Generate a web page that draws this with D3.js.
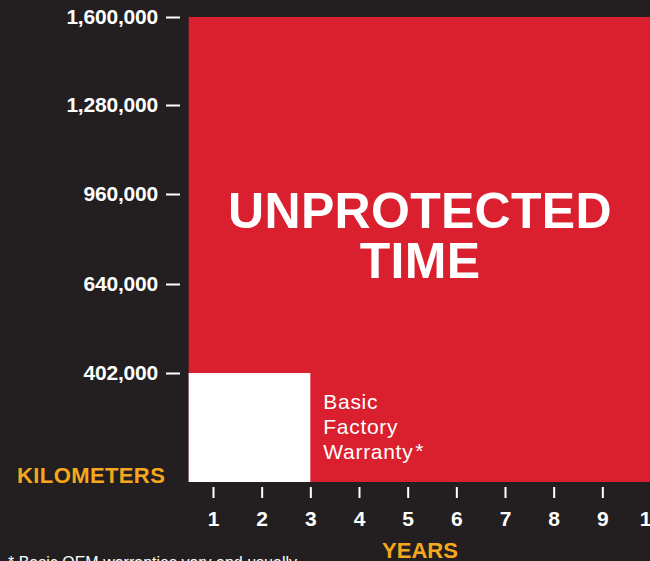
<!DOCTYPE html>
<html>
<head>
<meta charset="utf-8">
<script src="https://cdn.jsdelivr.net/npm/d3@7"></script>
<style>
  html, body { margin: 0; padding: 0; background: #231f20; }
  svg { display: block; font-family: "Liberation Sans", Arial, Helvetica, sans-serif; }
</style>
</head>
<body>
<svg id="chart" width="650" height="561"></svg>
<script>
// chart data
var years = [1, 2, 3, 4, 5, 6, 7, 8, 9, 10]
var kmTicks = [402000, 640000, 960000, 1280000, 1600000]
var segments = ['Unprotected Time', 'Basic Factory Warranty']
var segmentYears = [10, 3]
var segmentKm = [1600000, 402000]
var segmentColors = ['#da1f2e', '#ffffff']

var svg = d3.select('#chart')
var yellow = '#f6a81c'

// x: years, y: km (axis is stepped, not linear)
var x = d3.scaleLinear().domain([1, 10]).range([213, 651])
var y = d3.scaleLinear()
  .domain([0, 402000, 640000, 960000, 1280000, 1600000])
  .range([482, 373, 284, 194, 105, 17])

svg.selectAll('rect.seg')
  .data(segments)
  .enter().append('rect')
  .attr('class', 'seg')
  .attr('x', x(0.5))
  .attr('y', (d, i) => y(segmentKm[i]))
  .attr('width', (d, i) => x(segmentYears[i] + (i === 0 ? 0.5 : 0)) - x(0.5))
  .attr('height', (d, i) => y(0) - y(segmentKm[i]))
  .attr('fill', (d, i) => segmentColors[i])

// y axis
let yAxis = svg.append('g')
  .attr('transform', 'translate(180,0)')
  .call(d3.axisLeft(y).tickValues(kmTicks).tickSize(14).tickPadding(8)
    .tickFormat(d3.format(',')))
yAxis.select('.domain').remove()
yAxis.selectAll('line').attr('stroke', '#fff').attr('stroke-width', 2)
yAxis.selectAll('text')
  .attr('fill', '#fff')
  .attr('font-size', 21)
  .attr('font-weight', 'bold')
  .attr('letter-spacing', -0.2)
  .attr('font-family', '"Liberation Sans", Arial, sans-serif')

// x axis
let xAxis = svg.append('g')
  .attr('transform', 'translate(0,487)')
  .call(d3.axisBottom(x).tickValues(years).tickSize(11).tickPadding(13)
    .tickFormat(d3.format('d')))
xAxis.select('.domain').remove()
xAxis.selectAll('line').attr('stroke', '#fff').attr('stroke-width', 2)
xAxis.selectAll('text')
  .attr('fill', '#fff')
  .attr('font-size', 21)
  .attr('font-weight', 'bold')
  .attr('font-family', '"Liberation Sans", Arial, sans-serif')

// axis titles
svg.append('text')
  .attr('x', 17).attr('y', 483)
  .attr('fill', yellow)
  .attr('font-size', 22).attr('font-weight', 'bold')
  .attr('letter-spacing', 0.4)
  .text('KILOMETERS')

svg.append('text')
  .attr('x', 420).attr('y', 558)
  .attr('text-anchor', 'middle')
  .attr('fill', yellow)
  .attr('font-size', 22).attr('font-weight', 'bold')
  .text('YEARS')

// big label in the red area
let big = svg.append('text')
  .attr('text-anchor', 'middle')
  .attr('fill', '#fff')
  .attr('font-size', 50).attr('font-weight', 'bold')
  .attr('letter-spacing', 0.3)
big.append('tspan').attr('x', 420).attr('y', 228).text('UNPROTECTED')
big.append('tspan').attr('x', 420).attr('y', 278).text('TIME')

// warranty label
let warr = svg.append('text')
  .attr('fill', '#fff')
  .attr('font-size', 21)
  .attr('letter-spacing', 0.7)
let lines = ['Basic', 'Factory', 'Warranty']
lines.forEach((l, i) => {
  warr.append('tspan').attr('x', x(3) + 13).attr('y', 409 + i * 25).text(l)
})
warr.append('tspan').attr('dx', 2).attr('dy', -1).attr('font-size', 21).text('*')

// footnote, cut off by the bottom edge
svg.append('text')
  .attr('x', 8).attr('y', 568)
  .attr('fill', '#fff')
  .attr('font-size', 16)
  .text('* Basic OEM warranties vary and usually')
</script>
</body>
</html>
